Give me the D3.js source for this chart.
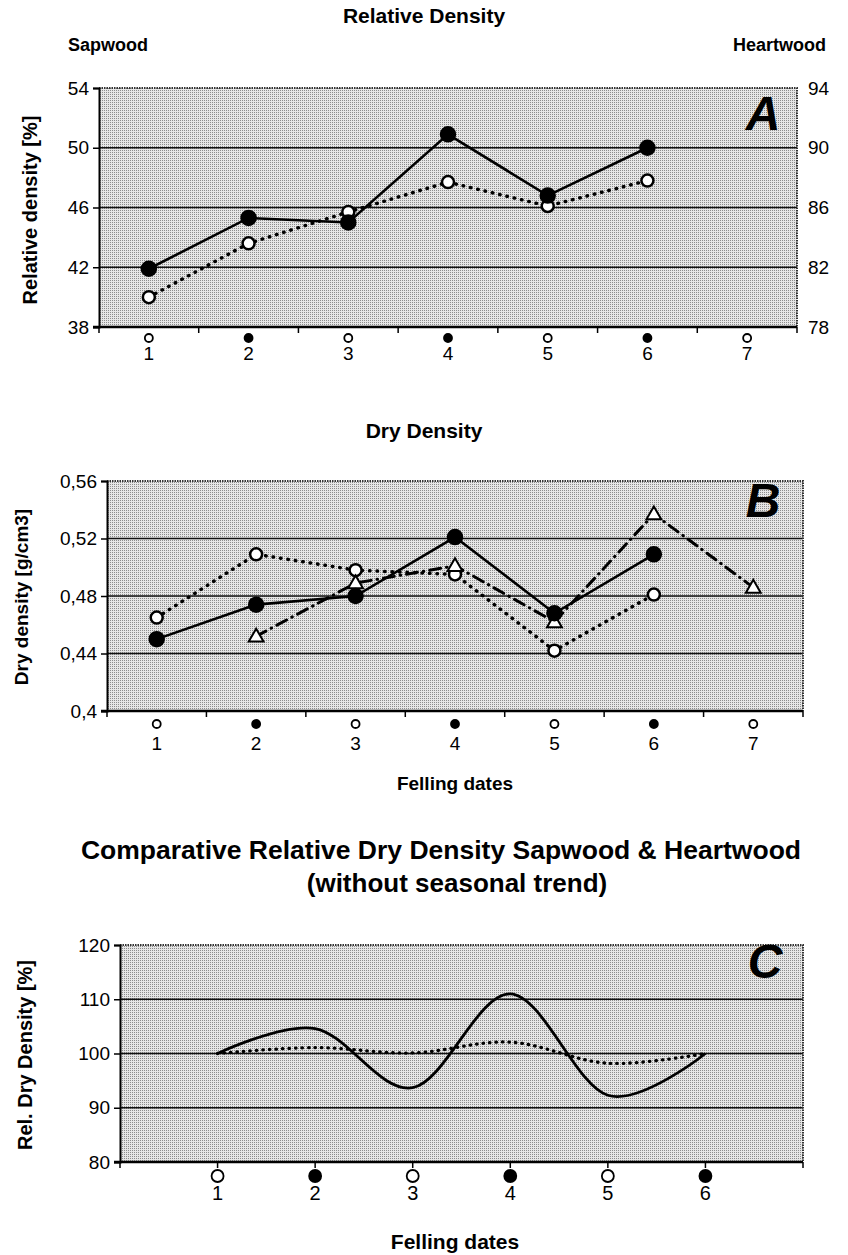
<!DOCTYPE html>
<html>
<head>
<meta charset="utf-8">
<script src="https://cdn.jsdelivr.net/npm/d3@7"></script>
<style>
  body { margin: 0; background: #fff; }
  text { fill: #000; }
  .narrow { font-family: "Liberation Sans Narrow", "Arial Narrow", "Liberation Sans", Arial, sans-serif; }
  .wide { font-family: "Liberation Sans", Arial, sans-serif; font-weight: bold; }
</style>
</head>
<body>
<div id="chart"></div>
<script>
// felling dates
var datesAB = [1, 2, 3, 4, 5, 6, 7];
var datesC = [1, 2, 3, 4, 5, 6];
var dateMarks = ["open", "filled", "open", "filled", "open", "filled", "open"];

// A: relative density [%]
var ticksA = [38, 42, 46, 50, 54];
var ticksARight = [78, 82, 86, 90, 94];
var sapA = [41.9, 45.3, 45.0, 50.9, 46.8, 50.0];        // left axis, solid
var heartA = [80.0, 83.6, 85.7, 87.7, 86.1, 87.8];      // right axis, dotted

// B: dry density [g/cm3]
var ticksB = [0.40, 0.44, 0.48, 0.52, 0.56];
var tickLabelsB = ["0,4", "0,44", "0,48", "0,52", "0,56"];
var solidB = [0.450, 0.474, 0.480, 0.521, 0.468, 0.509];
var dottedB = [0.465, 0.509, 0.498, 0.495, 0.442, 0.481];
var triB = [null, 0.452, 0.489, 0.501, 0.462, 0.537, 0.486];

// C: relative dry density without seasonal trend [%]
var ticksC = [80, 90, 100, 110, 120];
var sapC = [100, 104.6, 93.7, 111.0, 92.3, 100];
var heartC = [100, 101.1, 100.1, 102.1, 98.2, 100];

var W = 848, H = 1255;
var svg = d3.select("#chart").append("svg")
    .attr("width", W)
    .attr("height", H);

// stipple background
var pat = svg.append("defs").append("pattern")
    .attr("id", "stip")
    .attr("patternUnits", "userSpaceOnUse")
    .attr("width", 2).attr("height", 2);
pat.append("rect").attr("width", 2).attr("height", 2).attr("fill", "#e6e6e6");
pat.append("rect").attr("width", 1).attr("height", 1).attr("fill", "#8c8c8c");

function text(x, y, s, size, cls, anchor) {
  return svg.append("text")
    .attr("class", cls)
    .attr("x", x).attr("y", y)
    .attr("font-size", size)
    .attr("font-weight", "bold")
    .attr("text-anchor", anchor || "middle")
    .text(s);
}

// draws frame, grid, axes and the marker row under the x axis
function frame(p) {
  var g = svg.append("g");
  g.append("rect")
    .attr("x", p.left).attr("y", p.top)
    .attr("width", p.right - p.left).attr("height", p.bottom - p.top)
    .attr("fill", "url(#stip)");
  // gridlines
  g.selectAll(".grid")
    .data(p.ticks.slice(1, -1))
    .enter().append("line")
    .attr("x1", p.left).attr("x2", p.right)
    .attr("y1", function(d) { return p.y(d); })
    .attr("y2", function(d) { return p.y(d); })
    .attr("stroke", "#111").attr("stroke-width", 1.4);
  // top + right border (dotted look)
  g.append("path")
    .attr("d", "M" + p.left + "," + p.top + "H" + p.right + "V" + p.bottom)
    .attr("fill", "none").attr("stroke", "#333")
    .attr("stroke-width", 2).attr("stroke-dasharray", "1.5,1");
  // left axis
  var ly = g.append("g")
    .attr("transform", "translate(" + p.left + ",0)")
    .call(d3.axisLeft(p.y).tickValues(p.ticks).tickSize(6).tickPadding(4)
      .tickFormat(function(d, i) { return p.labels ? p.labels[i] : d; }));
  ly.select(".domain").attr("stroke-width", 2);
  ly.selectAll(".tick line").attr("stroke-width", 1.5);
  ly.selectAll("text").attr("class", "narrow").attr("font-size", 19).attr("fill", "#000");
  // bottom axis line
  g.append("line")
    .attr("x1", p.left - 6).attr("x2", p.right)
    .attr("y1", p.bottom).attr("y2", p.bottom)
    .attr("stroke", "#000").attr("stroke-width", 2.5);
  g.selectAll(".xt")
    .data(p.xTicks)
    .enter().append("line")
    .attr("x1", function(d) { return d; }).attr("x2", function(d) { return d; })
    .attr("y1", p.bottom).attr("y2", p.bottom + 6)
    .attr("stroke", "#000").attr("stroke-width", 1.5);
  // markers + numbers under the axis
  g.selectAll(".dm")
    .data(p.dates)
    .enter().append("circle")
    .attr("cx", function(d) { return p.cx(d); })
    .attr("cy", p.bottom + p.markOff)
    .attr("r", p.markR)
    .attr("fill", function(d, i) { return dateMarks[i] == "filled" ? "#000" : "#fff"; })
    .attr("stroke", "#000").attr("stroke-width", 1.8);
  g.selectAll(".dn")
    .data(p.dates)
    .enter().append("text")
    .attr("class", "narrow")
    .attr("x", function(d) { return p.cx(d); })
    .attr("y", p.bottom + p.numOff)
    .attr("font-size", p.numSize)
    .attr("text-anchor", "middle")
    .text(function(d) { return d; });
  return g;
}

function series(p, vals, scale, dash, width, curve) {
  var pts = vals.map(function(v, i) { return {x: p.dates[i], v: v}; })
    .filter(function(d) { return d.v != null; });
  var line = d3.line()
    .x(function(d) { return p.cx(d.x); })
    .y(function(d) { return scale(d.v); });
  if (curve) line.curve(curve);
  svg.append("path")
    .datum(pts)
    .attr("d", line)
    .attr("fill", "none")
    .attr("stroke", "#000")
    .attr("stroke-width", width)
    .attr("stroke-linecap", dash ? "round" : "butt")
    .attr("stroke-dasharray", dash);
  return pts;
}

function dots(p, pts, scale, kind) {
  var g = svg.append("g");
  if (kind == "tri") {
    g.selectAll("path").data(pts).enter().append("path")
      .attr("d", d3.symbol().type(d3.symbolTriangle).size(95))
      .attr("transform", function(d) { return "translate(" + p.cx(d.x) + "," + (scale(d.v) + 1) + ")"; })
      .attr("fill", "#fff").attr("stroke", "#000").attr("stroke-width", 2);
  } else {
    g.selectAll("circle").data(pts).enter().append("circle")
      .attr("cx", function(d) { return p.cx(d.x); })
      .attr("cy", function(d) { return scale(d.v); })
      .attr("r", kind == "filled" ? 7 : 6)
      .attr("fill", kind == "filled" ? "#000" : "#fff")
      .attr("stroke", "#000").attr("stroke-width", 2.5);
  }
}

// ---------- Panel A ----------
var pA = {left: 99, right: 797, top: 88, bottom: 327, ticks: ticksA, dates: datesAB,
          markOff: 11, markR: 4, numOff: 33, numSize: 19};
pA.y = d3.scaleLinear().domain([38, 54]).range([pA.bottom, pA.top]);
var yAR = d3.scaleLinear().domain([78, 94]).range([pA.bottom, pA.top]);
var xA = d3.scaleBand().domain(datesAB).range([pA.left, pA.right]);
pA.cx = function(d) { return xA(d) + xA.bandwidth() / 2; };
pA.xTicks = datesAB.map(function(d) { return xA(d); }).concat([pA.right]);
frame(pA);
svg.append("g")
  .attr("transform", "translate(" + (pA.right + 4) + ",0)")
  .call(d3.axisRight(yAR).tickValues(ticksARight).tickSize(0).tickPadding(7))
  .call(function(g) { g.select(".domain").remove(); })
  .selectAll("text").attr("class", "narrow").attr("font-size", 19).attr("fill", "#000");
var hA = series(pA, heartA, yAR, "0.5,7", 3.5);
var sA = series(pA, sapA, pA.y, null, 2.6);
dots(pA, hA, yAR, "open");
dots(pA, sA, pA.y, "filled");
text(424, 23, "Relative Density", 21, "narrow");
text(68, 51, "Sapwood", 18, "narrow", "start");
text(826, 51, "Heartwood", 18, "narrow", "end");
text(763, 130, "A", 48, "wide").attr("font-style", "italic");
text(30, 210, "Relative density [%]", 20, "wide").attr("transform", "rotate(-90,30,210)").attr("dy", "0.35em");

// ---------- Panel B ----------
var pB = {left: 107, right: 803, top: 481, bottom: 711, ticks: ticksB, labels: tickLabelsB,
          dates: datesAB, markOff: 13, markR: 4, numOff: 39, numSize: 19};
pB.y = d3.scaleLinear().domain([0.40, 0.56]).range([pB.bottom, pB.top]);
var xB = d3.scaleBand().domain(datesAB).range([pB.left, pB.right]);
pB.cx = function(d) { return xB(d) + xB.bandwidth() / 2; };
pB.xTicks = datesAB.map(function(d) { return xB(d); }).concat([pB.right]);
frame(pB);
var dB = series(pB, dottedB, pB.y, "0.5,7", 3.5);
var tB = series(pB, triB, pB.y, "11,6,0.5,6", 3);
var sB = series(pB, solidB, pB.y, null, 2.6);
dots(pB, dB, pB.y, "open");
dots(pB, tB, pB.y, "tri");
dots(pB, sB, pB.y, "filled");
text(424, 438, "Dry Density", 21, "narrow");
text(455, 790, "Felling dates", 19, "narrow");
text(763, 517, "B", 48, "wide").attr("font-style", "italic");
text(21, 597, "Dry density [g/cm3]", 19, "wide").attr("transform", "rotate(-90,21,597)").attr("dy", "0.35em");

// ---------- Panel C ----------
var pC = {left: 120, right: 803, top: 945, bottom: 1162, ticks: ticksC, dates: datesC,
          markOff: 14, markR: 6, numOff: 38, numSize: 20};
pC.y = d3.scaleLinear().domain([80, 120]).range([pC.bottom, pC.top]);
var xC = d3.scaleLinear().domain([0, 7]).range([pC.left, pC.right]);
pC.cx = function(d) { return xC(d); };
pC.xTicks = d3.range(0, 8).map(function(d) { return xC(d); });
frame(pC);
series(pC, heartC, pC.y, "0.5,6", 3.3, d3.curveCatmullRom.alpha(0));
series(pC, sapC, pC.y, null, 2.8, d3.curveCatmullRom.alpha(0));
text(441, 859, "Comparative Relative Dry Density Sapwood & Heartwood", 26.5, "narrow");
text(457, 892, "(without seasonal trend)", 26, "narrow");
text(455, 1249, "Felling dates", 21, "narrow");
text(765, 978, "C", 48, "wide").attr("font-style", "italic");
text(25, 1055, "Rel. Dry Density [%]", 20, "wide").attr("transform", "rotate(-90,25,1055)").attr("dy", "0.35em");
</script>
</body>
</html>
